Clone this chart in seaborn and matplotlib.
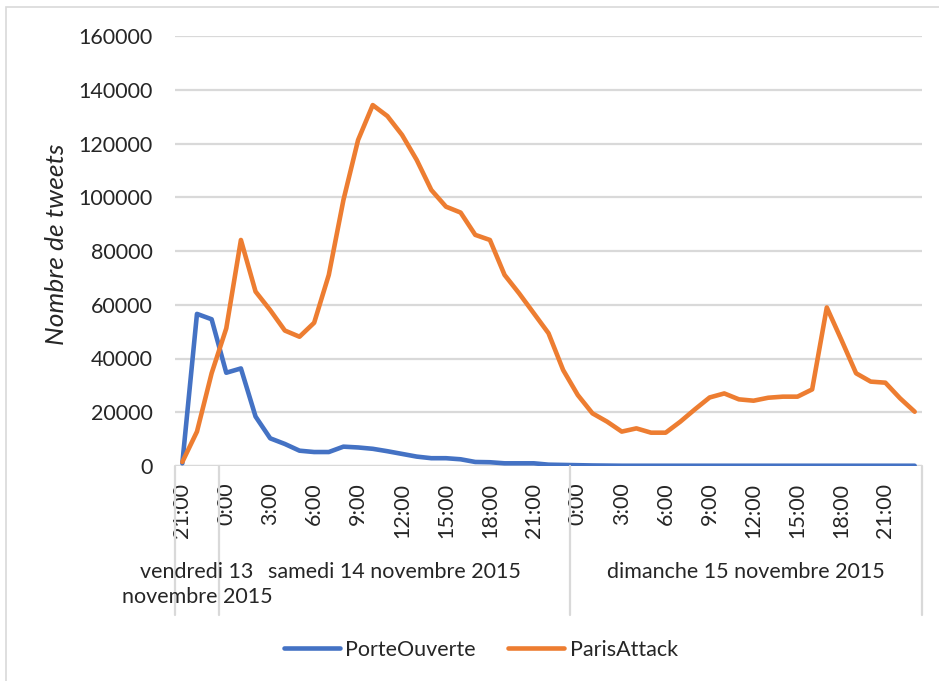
import numpy as np
import pandas as pd
import seaborn as sns
import matplotlib
matplotlib.use("Agg")
from matplotlib import pyplot as plt
from matplotlib.lines import Line2D
from matplotlib.patches import Rectangle
import matplotlib.transforms as mtransforms

# hourly counts, vendredi 13 21:00 -> dimanche 15 23:00
hours = [21, 22, 23] + list(range(24)) + list(range(24))
porte_ouverte = [1000, 56600, 54600, 34700, 36300, 18400, 10300, 8200, 5700, 5200,
                 5200, 7200, 6900, 6400, 5500, 4500, 3500, 2900, 2900, 2500,
                 1500, 1400, 1000, 1000, 1000, 500, 400, 300, 200, 150,
                 100, 100, 100, 100, 100, 100, 100, 100, 100, 100,
                 100, 100, 100, 100, 100, 100, 100, 100, 100, 100, 100]
paris_attack = [1500, 12800, 34500, 51200, 84100, 64900, 58000, 50400, 48100, 53300,
                71100, 99000, 121300, 134300, 130200, 123200, 113900, 102700, 96500, 94300,
                86000, 84100, 71100, 64200, 56800, 49400, 35700, 26400, 19600, 16500,
                12800, 14000, 12400, 12400, 16500, 21100, 25500, 27000, 24800, 24300,
                25400, 25800, 25800, 28500, 59000, 46900, 34500, 31400, 31000, 25200, 20200]
days = ["vendredi 13\nnovembre 2015", "samedi 14 novembre 2015", "dimanche 15 novembre 2015"]
day_sizes = [3, 24, 24]
series = ["PorteOuverte", "ParisAttack"]
colors = ["#4472C4", "#ED7D31"]

n = len(hours)
df = pd.DataFrame({
    "idx": list(range(n)) * 2,
    "tweets": porte_ouverte + paris_attack,
    "serie": [series[0]] * n + [series[1]] * n,
})

sns.set_style("white")
plt.rcParams["font.family"] = ["Lato", "DejaVu Sans"]
plt.rcParams["text.color"] = "#262626"
fs = 15.5

W, H = 939, 681
fig = plt.figure(figsize=(W / 100, H / 100), dpi=100)
ax = fig.add_axes([175 / W, 1 - 466 / H, (922 - 175) / W, (466 - 36) / H])

sns.lineplot(data=df, x="idx", y="tweets", hue="serie", palette=colors,
             linewidth=3.3, ax=ax, legend=False)

ax.set_xlim(-0.5, n - 0.5)
ax.set_ylim(0, 160000)
ax.set_yticks(np.arange(0, 160001, 20000))
ax.set_yticklabels([str(v) for v in range(0, 160001, 20000)])
ax.grid(axis="y", color="#d9d9d9", linewidth=1.6)
ax.set_axisbelow(True)
for s in ax.spines.values():
    s.set_visible(False)
ax.axhline(0, color="#d9d9d9", linewidth=1.6, zorder=0)

tick_idx = [i for i in range(n) if hours[i] % 3 == 0]
ax.set_xticks(tick_idx)
ax.set_xticklabels(["%d:00" % hours[i] for i in tick_idx], rotation=90, va="top")
ax.tick_params(axis="x", length=0, pad=12, labelsize=fs, labelcolor="#262626")
ax.tick_params(axis="y", length=0, pad=16, labelsize=fs, labelcolor="#262626")
ax.set_xlabel("")
ax.set_ylabel("")

# day separators and day labels below the axis
trans = mtransforms.blended_transform_factory(ax.transData, ax.transAxes)
bounds = np.cumsum([0] + day_sizes) - 0.5
for b in bounds:
    ax.add_line(Line2D([b, b], [0, -0.347], transform=trans, color="#d9d9d9",
                       linewidth=1.6, clip_on=False))
for k, d in enumerate(days):
    c = (bounds[k] + bounds[k + 1]) / 2
    ax.text(c, -0.223, d, transform=trans, ha="center", va="top", fontsize=fs,
            linespacing=1.3)

fig.text(57 / W, 1 - 244 / H, "Nombre de tweets", rotation=90, ha="center",
         va="center", fontsize=19, style="italic")

handles = [Line2D([], [], color=c, linewidth=3.3, solid_capstyle="round") for c in colors]
fig.legend(handles, series, loc="center", bbox_to_anchor=(481 / W, 1 - 650 / H),
           ncol=2, frameon=False, fontsize=fs, handlelength=2.6,
           handletextpad=0.25, columnspacing=1.5)

fig.add_artist(Rectangle((6 / W, -0.1), 1.2, 1 - 7 / H + 0.1, transform=fig.transFigure,
                         fill=False, edgecolor="#d9d9d9", linewidth=1.2))

fig.savefig("out.png", dpi=100)
